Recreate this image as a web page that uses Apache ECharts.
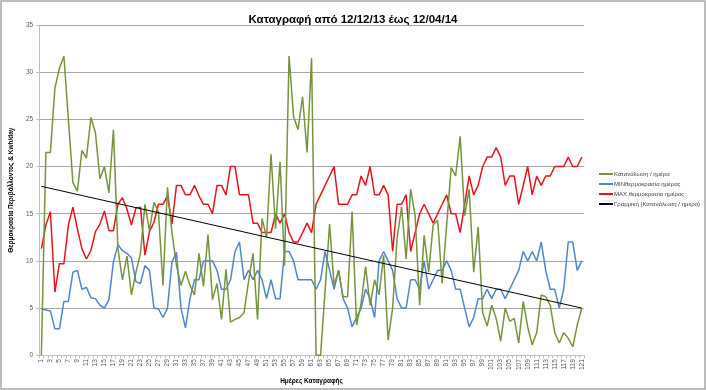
<!DOCTYPE html>
<html><head><meta charset="utf-8">
<script src="https://cdn.jsdelivr.net/npm/echarts@6/dist/echarts.min.js"></script>
<style>html,body{margin:0;padding:0;background:#fff}#c{width:706px;height:390px}</style>
</head><body><div id="c"></div>
<script>
const titleText = 'Καταγραφή από 12/12/13 έως 12/04/14';
const xName = 'Ημέρες Καταγραφής';
const yName = 'Θερμοκρασία Περιβάλλοντος & Kwh/day';
const seriesNames = ['Κατανάλωση / ημέρα', 'MINθερμοκρασία ημέρας', 'MAX θερμοκρασία ημέρας', 'Γραμμική (Κατανάλωση / ημέρα)'];
const days = Array.from({length: 121}, (_, i) => String(i + 1));

const consumption = [
  0, 21.5, 21.5, 28.3, 30.4, 31.7, 25.0, 18.3, 17.4, 21.7,
  20.9, 25.2, 23.6, 18.7, 20.0, 17.2, 23.9, 11.3, 8.0, 10.5,
  6.4, 8.8, 10.8, 16.0, 13.2, 16.2, 15.2, 7.4, 17.8, 13.0,
  9.5, 7.4, 8.9, 7.4, 6.4, 10.8, 7.3, 12.8, 5.9, 7.6,
  3.8, 9.1, 3.5, 3.8, 4.0, 4.5, 7.8, 10.8, 3.8, 14.5,
  12.5, 21.3, 13.4, 20.5, 9.5, 31.7, 25.3, 23.9, 27.4, 21.5,
  31.5, 0, 0, 6.8, 13.9, 7.4, 9.0, 6.2, 6.2, 15.2,
  3.2, 5.5, 9.4, 5.3, 8.0, 6.4, 10.6, 1.6, 5.0, 12.4,
  15.7, 10.2, 17.6, 14.8, 5.3, 12.7, 8.8, 13.8, 14.3, 7.6,
  13.8, 19.9, 19.0, 23.2, 14.8, 17.6, 8.8, 13.6, 4.5, 3.1,
  5.3, 3.9, 1.5, 5.0, 3.6, 3.9, 1.3, 5.7, 3.0, 1.1,
  2.4, 6.4, 6.2, 5.3, 2.4, 1.3, 2.4, 1.8, 0.9, 3.2,
  5.0
];
const minTemp = [
  4.9, 4.8, 4.7, 2.8, 2.8, 5.7, 5.7, 8.8, 9.0, 7.0,
  7.2, 6.1, 6.0, 5.3, 5.0, 5.9, 9.9, 11.7, 11.1, 10.8,
  10.3, 7.8, 7.6, 9.5, 9.0, 5.0, 4.9, 4.0, 5.0, 9.9,
  10.9, 5.0, 2.9, 6.0, 8.0, 8.0, 10, 10, 10, 9,
  7, 7, 8, 11, 12, 8, 9, 8, 9, 8,
  6, 8, 6, 6, 11, 11, 10, 8, 8, 8,
  8, 7, 8, 11, 9, 7, 9, 6, 5, 3,
  4, 5, 7, 6, 4, 10, 11, 10, 9, 6,
  5, 5, 8, 8, 7, 10, 7, 8, 9, 9,
  10, 9, 7, 7, 5, 3, 4, 6, 6, 7,
  6, 7, 7, 6, 7, 8, 9, 11, 10, 11,
  10, 12, 9, 7, 7, 5, 7, 12, 12, 9,
  10
];
const maxTemp = [
  11.3, 13.8, 15.2, 6.7, 9.7, 9.7, 13.8, 15.7, 13.4, 11.3,
  10.2, 11.1, 13.1, 13.9, 15.3, 13.2, 13.2, 16.0, 16.7, 15.5,
  13.8, 15.6, 15.7, 10.6, 13.1, 14.1, 16.0, 16.0, 16.9, 13.9,
  18, 18, 17, 17, 18, 16.9, 16, 16, 15, 18,
  18, 17, 20, 20, 17, 17, 17, 14, 14, 13,
  13, 13, 15, 14, 15, 13, 12, 12, 13, 14,
  13, 16, 17, 18, 19, 20, 16, 16, 16, 17,
  17, 19, 18, 20, 17, 17, 18, 17, 11, 16,
  16, 17, 11, 13, 15, 16, 15, 14, 15, 16,
  17, 15, 15, 13, 16, 19, 17, 18, 20, 21,
  21, 22, 21, 18, 19, 19, 16, 18, 20, 17,
  19, 18, 19, 19, 20, 20, 20, 21, 20, 20,
  21
];
const trendEnds = [17.9, 5.0];

const FONT = "'Liberation Sans', Arial, sans-serif";
const chart = echarts.init(document.getElementById('c'), null, {renderer: 'canvas'});
chart.setOption({
  animation: false,
  backgroundColor: '#ffffff',
  textStyle: {fontFamily: FONT},
  graphic: [{type: 'rect', shape: {x: 1, y: 1, width: 704, height: 388}, style: {fill: 'none', stroke: '#A6A6A6', lineWidth: 1.5}, silent: true}],
  title: {text: titleText, left: 'center', top: 9, textStyle: {fontFamily: FONT, fontSize: 11.5, fontWeight: 'bold', color: '#000'}},
  legend: {
    orient: 'vertical', left: 594, top: 166, icon: 'rect', itemWidth: 14, itemHeight: 2, itemGap: 4,
    textStyle: {fontFamily: FONT, fontSize: 6, color: '#404040', padding: [0, 0, 0, -4]},
    data: seriesNames
  },
  grid: {left: 31, right: 122, top: 25, bottom: 33},
  xAxis: {
    type: 'category', data: days, boundaryGap: true,
    name: xName, nameLocation: 'middle', nameGap: 22,
    nameTextStyle: {fontFamily: FONT, fontSize: 6.5, fontWeight: 'bold', color: '#000'},
    axisLine: {lineStyle: {color: '#BFBFBF', width: 1}},
    axisTick: {show: true, interval: 0, length: 3, lineStyle: {color: '#BFBFBF'}},
    axisLabel: {interval: 1, rotate: 90, fontSize: 6.5, color: '#595959', margin: 4, fontFamily: FONT},
    splitLine: {show: false}
  },
  yAxis: {
    type: 'value', min: 0, max: 35, interval: 5,
    name: yName, nameLocation: 'middle', nameGap: 19, nameRotate: 90,
    nameTextStyle: {fontFamily: FONT, fontSize: 6.5, fontWeight: 'bold', color: '#000'},
    axisLine: {show: true, lineStyle: {color: '#BFBFBF', width: 1}},
    axisTick: {show: true, length: 3, lineStyle: {color: '#BFBFBF'}},
    axisLabel: {fontSize: 6.5, color: '#595959', margin: 6, fontFamily: FONT},
    splitLine: {lineStyle: {color: '#A6A6A6', width: 1}}
  },
  series: [
    {name: seriesNames[0], type: 'line', data: consumption, showSymbol: false, lineStyle: {color: '#77933C', width: 1.5}, itemStyle: {color: '#77933C'}, z: 3},
    {name: seriesNames[1], type: 'line', data: minTemp, showSymbol: false, lineStyle: {color: '#4F86C6', width: 1.5}, itemStyle: {color: '#4F86C6'}, z: 2},
    {name: seriesNames[2], type: 'line', data: maxTemp, showSymbol: false, lineStyle: {color: '#E8141C', width: 1.5}, itemStyle: {color: '#E8141C'}, z: 2},
    {name: seriesNames[3], type: 'line', data: [[0, trendEnds[0]], [days.length - 1, trendEnds[1]]], showSymbol: false, lineStyle: {color: '#000', width: 1}, itemStyle: {color: '#000'}, z: 4}
  ]
});
</script>
</body></html>
